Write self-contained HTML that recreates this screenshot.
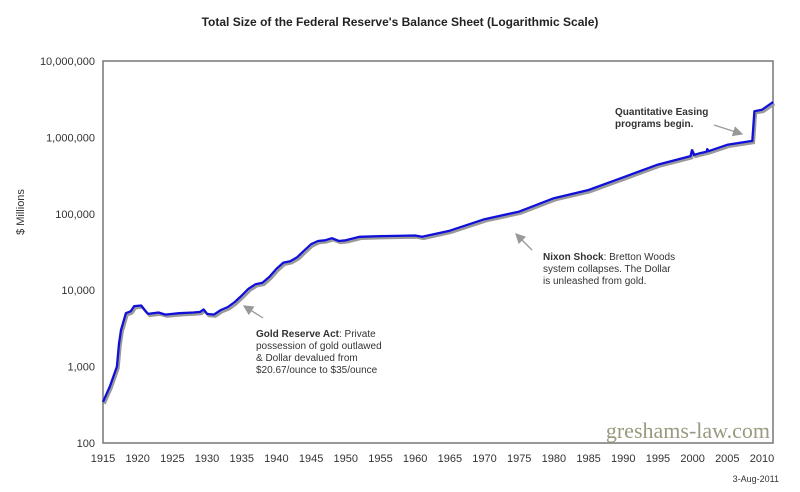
<!DOCTYPE html>
<html><head><meta charset="utf-8"><style>
html,body{margin:0;padding:0;background:#fff;}
svg{display:block;font-family:"Liberation Sans","DejaVu Sans",sans-serif;}
</style></head><body>
<svg id="chart" width="800" height="492" viewBox="0 0 800 492">
<defs><marker id="ah" markerWidth="8" markerHeight="8" refX="7" refY="4" orient="auto"><path d="M0,0 L8,4 L0,8 Z" fill="#999"/></marker></defs>
<text x="400" y="26" text-anchor="middle" font-size="12" font-weight="bold" fill="#222">Total Size of the Federal Reserve's Balance Sheet (Logarithmic Scale)</text>
<rect x="103" y="61" width="670" height="382" fill="none" stroke="#777" stroke-width="1.5"/>
<text transform="translate(24,212) rotate(-90)" text-anchor="middle" font-size="11" fill="#333">$ Millions</text>
<g id="yticks"></g><g id="xticks"></g>
<path id="shadow" fill="none" stroke="#999" stroke-width="2.5"/>
<path id="line" fill="none" stroke="#1010d8" stroke-width="2.3" stroke-linejoin="round"/>
<line x1="263" y1="318" x2="244" y2="306" stroke="#999" stroke-width="1.3" marker-end="url(#ah)"/>
<text font-size="10" fill="#333"><tspan x="256" y="337"><tspan font-weight="bold">Gold Reserve Act</tspan>: Private</tspan><tspan x="256" y="349">possession of gold outlawed</tspan><tspan x="256" y="361">&amp; Dollar devalued from</tspan><tspan x="256" y="373">$20.67/ounce to $35/ounce</tspan></text>
<line x1="532" y1="250" x2="516" y2="234" stroke="#999" stroke-width="1.3" marker-end="url(#ah)"/>
<text font-size="10" fill="#333"><tspan x="543" y="260"><tspan font-weight="bold">Nixon Shock</tspan>: Bretton Woods</tspan><tspan x="543" y="272">system collapses. The Dollar</tspan><tspan x="543" y="284">is unleashed from gold.</tspan></text>
<line x1="714" y1="125" x2="742" y2="134" stroke="#999" stroke-width="1.3" marker-end="url(#ah)"/>
<text font-size="10" font-weight="bold" fill="#333"><tspan x="615" y="115">Quantitative Easing</tspan><tspan x="615" y="127">programs begin.</tspan></text>
<text x="770" y="438" text-anchor="end" font-family="'Liberation Serif',serif" font-size="22" fill="#9a9a80">greshams-law.com</text>
<text x="779" y="482" text-anchor="end" font-size="9" fill="#333">3-Aug-2011</text>
</svg>
<script>
const years=[1915,1916,1917,1917.3,1917.6,1918.3,1919,1919.5,1920.5,1921,1921.5,1923,1924,1925,1926,1928,1929,1929.5,1930,1931,1932,1933,1934,1935,1936,1937,1938,1939,1940,1941,1942,1943,1944,1945,1946,1947,1948,1949,1950,1952,1955,1960,1961,1965,1970,1975,1980,1985,1990,1995,1999.7,1999.9,2000.2,2001,2002,2002.1,2002.3,2005,2008.6,2008.9,2010,2011.6];
const values=[345,550,1000,2000,3000,5000,5300,6200,6300,5500,4900,5100,4800,4900,5000,5100,5200,5600,4900,4800,5500,6000,7000,8500,10500,12000,12500,15000,19000,23000,24000,27000,33000,40000,44000,45000,48000,44000,45000,50000,51000,52000,50000,60000,85000,107000,160000,205000,300000,440000,570000,680000,590000,620000,650000,700000,660000,800000,900000,2200000,2300000,2900000];
const yTickValues=[100,1000,10000,100000,1000000,10000000];
const yTickLabels=["100","1,000","10,000","100,000","1,000,000","10,000,000"];
const xTickYears=[1915,1920,1925,1930,1935,1940,1945,1950,1955,1960,1965,1970,1975,1980,1985,1990,1995,2000,2005,2010];
const X=y=>103+(y-1915)*(659/95);
const Y=v=>443-(Math.log10(v)-2)*76.4;
const NS="http://www.w3.org/2000/svg";
const yt=document.getElementById('yticks');
yTickValues.forEach((v,i)=>{const t=document.createElementNS(NS,'text');
t.setAttribute('x',95);t.setAttribute('y',Y(v)+4);t.setAttribute('text-anchor','end');t.setAttribute('font-size','11');t.setAttribute('fill','#333');


t.textContent=yTickLabels[i];yt.appendChild(t);});
const xt=document.getElementById('xticks');
xTickYears.forEach(y=>{const t=document.createElementNS(NS,'text');
t.setAttribute('x',X(y));t.setAttribute('y',462);t.setAttribute('text-anchor','middle');t.setAttribute('font-size','11');t.setAttribute('fill','#333');


t.textContent=y;xt.appendChild(t);});
let d='',ds='';
years.forEach((y,i)=>{d+=(i?'L':'M')+X(y).toFixed(1)+','+Y(values[i]).toFixed(1);
ds+=(i?'L':'M')+(X(y)+1.5).toFixed(1)+','+(Y(values[i])+2).toFixed(1);});
document.getElementById('line').setAttribute('d',d);
document.getElementById('shadow').setAttribute('d',ds);
</script>
</body></html>
